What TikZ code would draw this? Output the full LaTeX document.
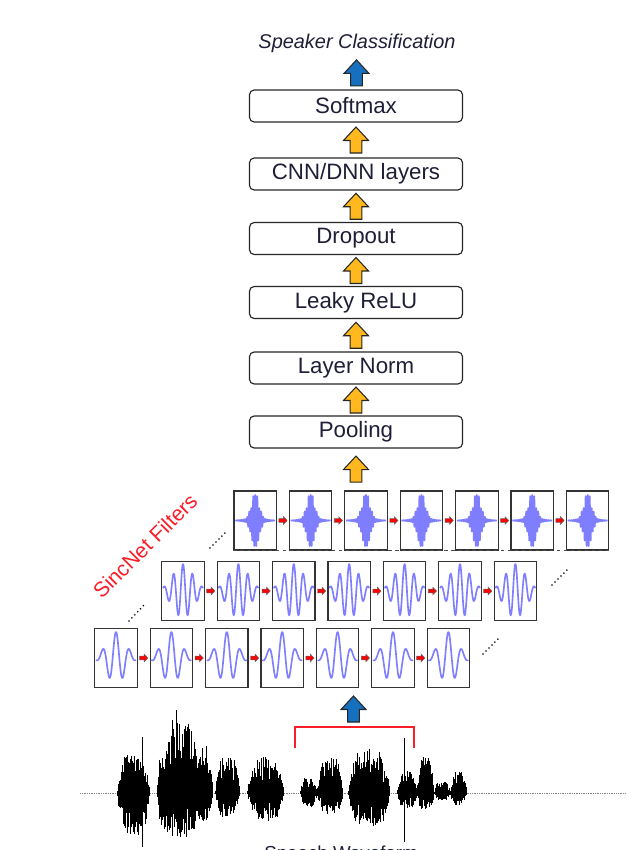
\documentclass[tikz,border=0pt]{standalone}
\usepackage{fontspec}
\setmainfont{Liberation Sans}
\usetikzlibrary{calc}

\definecolor{arrowyellow}{RGB}{255,185,30}
\definecolor{arrowblue}{RGB}{22,112,190}
\definecolor{textnavy}{RGB}{30,30,55}
\definecolor{sincred}{RGB}{250,30,40}
\definecolor{filtblue}{RGB}{40,40,255}

\tikzset{
  layer/.style={draw=black!85, line width=1pt, rounded corners=4pt, minimum width=6.39cm, minimum height=0.96cm, inner sep=0pt, text=textnavy, font=\fontsize{19}{22}\selectfont},
  filt/.style={draw=black!80, line width=1pt, fill=white, minimum width=1.275cm, minimum height=1.77cm, inner sep=0pt},
  fwave/.style={filtblue, line width=1.4pt, opacity=0.6, line join=round},
  wave/.style={black, line width=0.7pt},
  dotdiag/.style={line width=1.5pt, line cap=round, dash pattern=on 0pt off 3.6pt},
  pics/blockup/.style={code={\draw[fill=#1, draw=black!85, line width=0.9pt] (-5.8,13) -- (-5.8,0.5) -- (-12.5,0.5) -- (0,-13) -- (12.5,0.5) -- (5.8,0.5) -- (5.8,13) -- cycle;}},
  pics/redtip/.style={code={\draw[fill=red, draw=black!60, line width=0.4pt] (-4,-1.8) -- (0.5,-1.8) -- (0.5,-3.8) -- (4.2,0) -- (0.5,3.8) -- (0.5,1.8) -- (-4,1.8) -- cycle;}}
}

\begin{document}
\begin{tikzpicture}[x=0.03cm, y=-0.03cm]

    \useasboundingbox (0,0) rectangle (626,850);
    \clip (0,0) rectangle (626,850);

    % network layers
    \node[font=\fontsize{17}{20}\selectfont\itshape, text=textnavy] (spk) at (357,43) {Speaker Classification};
    \node[layer] (softmax) at (356,106) {Softmax};
    \node[layer] (cnn) at (356,174) {CNN/DNN layers};
    \node[layer] (drop) at (356,238.5) {Dropout};
    \node[layer] (relu) at (356,302.5) {Leaky ReLU};
    \node[layer] (norm) at (356,368) {Layer Norm};
    \node[layer] (pool) at (356,432) {Pooling};

    \path ($(spk.south)!0.5!(softmax.north)$) pic {blockup=arrowblue};
    \path ($(softmax.south)!0.5!(cnn.north)$) pic {blockup=arrowyellow};
    \path ($(cnn.south)!0.5!(drop.north)$) pic {blockup=arrowyellow};
    \path ($(drop.south)!0.5!(relu.north)$) pic {blockup=arrowyellow};
    \path ($(relu.south)!0.5!(norm.north)$) pic {blockup=arrowyellow};
    \path ($(norm.south)!0.5!(pool.north)$) pic {blockup=arrowyellow};
    \path (pool.south) ++(0,20.5) pic {blockup=arrowyellow};

    % sincnet filter rows
    \foreach \i in {1,...,7}{
        \node[filt] (top\i) at ({255.25+55.4*(\i-1)},520.5) {};
        \node[filt] (mid\i) at ({183+55.4*(\i-1)},591) {};
        \node[filt] (bot\i) at ({116+55.4*(\i-1)},658) {};
        \draw[fwave, shift={(top\i.center)}] plot[domain=-1:1, samples=400] (20*\x, {-27*cos(3600*\x)*max(0.95*exp(-min(9,(\x*\x/0.045)^2)), 0.5*exp(-min(9,(\x*\x/0.14)^2)), 0.13*exp(-\x*\x/0.3))});
        \draw[fwave, shift={(mid\i.center)}] plot[domain=-1:1, samples=140] (20*\x, {-27*cos(760*\x)*exp(-2*\x*\x)});
        \draw[fwave, shift={(bot\i.center)}] plot[domain=-1:1, samples=90] (20*\x, {-26*cos(540*\x)*exp(-2.5*\x*\x)});
    }
    \draw[dashed, black!70, line width=0.8pt] (top1.south west) -- (top7.south east);

    \foreach \i [evaluate=\i as \j using int(\i+1)] in {1,...,6}{
        \path ($(top\i.east)!0.5!(top\j.west)$) pic {redtip};
        \path ($(mid\i.east)!0.5!(mid\j.west)$) pic {redtip};
        \path ($(bot\i.east)!0.5!(bot\j.west)$) pic {redtip};
    }

    \draw[dotdiag] (210,548) -- (226,532);
    \draw[dotdiag] (129,621) -- (145,604);
    \draw[dotdiag] (552,585) -- (568,569);
    \draw[dotdiag] (483,654) -- (499,638);

    \node[rotate=45, text=sincred, font=\fontsize{18}{20}\selectfont] (sinc) at (145,546) {SincNet Filters};

    \path (353.5,709) pic {blockup=arrowblue};

    % speech waveform
    \draw[densely dotted, black!50, line width=0.5pt] (80,793) -- (626,793);
    \pgfmathsetseed{7}
    \foreach \xa/\xb/\au/\ad in {117/150/40/42, 157/172/45/40, 163/200/72/46, 195/213/48/30, 215/240/38/25, 247/284/36/28, 300/317/16/14, 317/343/37/21, 348/390/44/35, 397/417/22/15, 417/434/40/18, 434/450/13/8, 450/467/22/12}{
        \pgfmathtruncatemacro\nn{2*(\xb-\xa)}
        \foreach \k in {0,...,\nn}{
            \pgfmathsetmacro\ss{2*\k/\nn-1}
            \pgfmathsetmacro\up{\au*(1-\ss*\ss*\ss*\ss)*(0.3+0.7*rnd)}
            \pgfmathsetmacro\dn{\ad*(1-\ss*\ss*\ss*\ss)*(0.3+0.7*rnd)}
            \draw[wave] (\xa+\k/2,793-\up) -- (\xa+\k/2,793+\dn);
        }
    }
    \draw[wave] (176,710) -- (176,795);
    \draw[wave] (172,720) -- (172,836);
    \draw[wave] (142,737) -- (142,847);
    \draw[wave] (404,738) -- (404,842);
    \draw[wave] (188,744) -- (188,830);
    \draw[wave] (127,762) -- (127,830);

    \draw[sincred, line width=2.5pt] (295,748) -- (295,727) -- (414,727) -- (414,748);

    \node[anchor=base, font=\fontsize{16}{18}\selectfont, text=textnavy] (speech) at (341,859) {Speech Waveform};

\end{tikzpicture}
\end{document}
